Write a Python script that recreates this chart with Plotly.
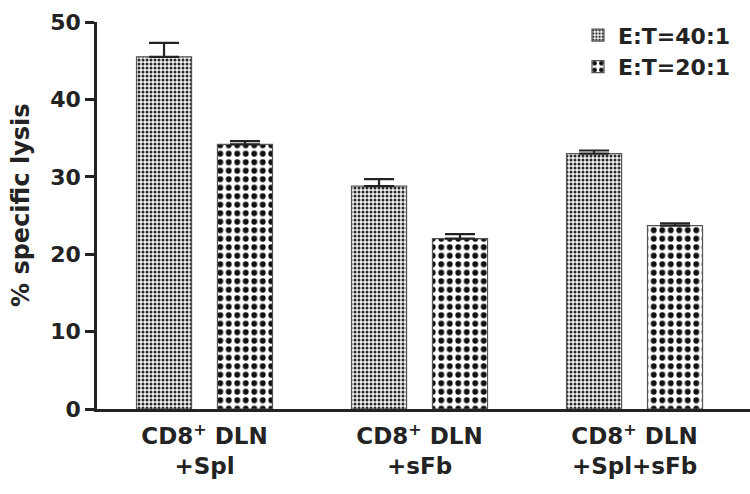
import plotly.graph_objects as go

categories = ["CD8<sup>+</sup> DLN<br>+Spl", "CD8<sup>+</sup> DLN<br>+sFb", "CD8<sup>+</sup> DLN<br>+Spl+sFb"]
series_names = ["E:T=40:1", "E:T=20:1"]
values_40 = [45.5, 28.8, 33.0]
errors_40 = [1.8, 0.9, 0.4]
values_20 = [34.2, 22.0, 23.7]
errors_20 = [0.4, 0.6, 0.3]
y_title = "% specific lysis"

font_fam = "DejaVu Sans, Liberation Sans, Arial, sans-serif"
ink = "#232323"

fig = go.Figure()
fig.add_trace(go.Bar(
    name=series_names[0], x=categories, y=values_40,
    error_y=dict(type="data", array=errors_40, arrayminus=[0, 0, 0], symmetric=False,
                 color=ink, thickness=2.2, width=15),
    marker=dict(color="#2a2a2a", line=dict(color="#555", width=1.2),
                pattern=dict(shape=".", size=4, solidity=0.45, bgcolor="#f2f2f2",
                             fgopacity=1, fillmode="replace")),
))
fig.add_trace(go.Bar(
    name=series_names[1], x=categories, y=values_20,
    error_y=dict(type="data", array=errors_20, arrayminus=[0, 0, 0], symmetric=False,
                 color=ink, thickness=2.2, width=15),
    marker=dict(color="#111111", line=dict(color="#555", width=1.2),
                pattern=dict(shape=".", size=8.5, solidity=0.38, bgcolor="white",
                             fgopacity=1, fillmode="replace")),
))

fig.add_annotation(
    text=y_title, xref="paper", yref="paper",
    x=(21 - 97) / 653, y=(409 - 205) / 387, xanchor="center", yanchor="middle",
    textangle=-90, showarrow=False,
    font=dict(size=24, family=font_fam, weight="bold", color=ink),
)

fig.update_layout(
    width=750, height=494,
    margin=dict(l=97, r=0, t=22, b=85),
    paper_bgcolor="white", plot_bgcolor="white",
    barmode="group", bargap=0.247, bargroupgap=0.32,
    font=dict(family=font_fam, color=ink),
    showlegend=True,
    legend=dict(x=(578 - 97) / 653, xanchor="left", y=1.02, yanchor="top",
                font=dict(size=22, family=font_fam, weight="bold", color=ink),
                bgcolor="rgba(0,0,0,0)", tracegroupgap=0),
    xaxis=dict(range=[-0.5, 2.537], showline=True, linecolor=ink, linewidth=2.5, ticks="",
               ticklabelstandoff=5,
               tickfont=dict(size=23, family=font_fam, weight="bold", color=ink),
               showgrid=False),
    yaxis=dict(range=[0, 50], dtick=10, showline=True, linecolor=ink, linewidth=2.5,
               ticks="outside", ticklen=9, tickwidth=2.5, tickcolor=ink,
               tickfont=dict(size=22, family=font_fam, weight="bold", color=ink),
               showgrid=False, zeroline=False),
)

fig.write_html("out.html", config={"displayModeBar": False},
               post_script="document.body.style.margin='0';")
